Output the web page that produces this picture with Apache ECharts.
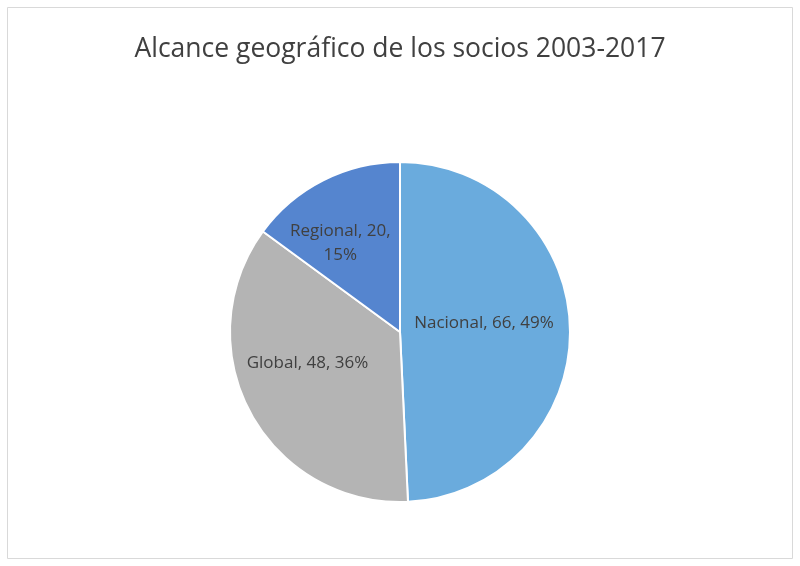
<!DOCTYPE html>
<html>
<head>
    <meta charset="utf-8">
    <title>Alcance geográfico</title>
    <script src="https://cdn.jsdelivr.net/npm/echarts@6/dist/echarts.min.js"></script>
    <style>
        html, body { margin: 0; padding: 0; background: #fff; }
    </style>
</head>
<body>
    <div id="main" style="width: 800px;height:566px;"></div>
    <script>
        var categories = ['Nacional', 'Global', 'Regional'];
        var values = [66, 48, 20];
        var colors = ['#6AABDD', '#B4B4B4', '#5585CF'];

        var pieData = [];
        for (var i = 0; i < categories.length; i++) {
            pieData.push({
                name: categories[i],
                value: values[i],
                itemStyle: { color: colors[i] }
            });
        }

        // nudges so the labels sit where Excel put them
        var labelShift = [[-4, -7], [-15, -10], [-20, -10]];

        var myChart = echarts.init(document.getElementById('main'));
        var option = {
            backgroundColor: '#fff',
            animation: false,
            title: {
                text: 'Alcance geográfico de los socios 2003-2017',
                left: 'center',
                top: 31,
                textStyle: {
                    fontFamily: 'Open Sans',
                    fontSize: 26.5,
                    fontWeight: 'normal',
                    color: '#404040'
                }
            },
            graphic: [{
                type: 'rect',
                shape: { x: 7.5, y: 7.5, width: 785, height: 551 },
                style: { fill: 'none', stroke: '#d9d9d9', lineWidth: 1 },
                silent: true
            }],
            series: [{
                type: 'pie',
                center: [400, 332],
                radius: 170,
                startAngle: 90,
                clockwise: true,
                percentPrecision: 0,
                data: pieData,
                itemStyle: { borderColor: '#fff', borderWidth: 2 },
                label: {
                    show: true,
                    position: 'inside',
                    fontFamily: 'Open Sans',
                    fontSize: 17,
                    color: '#404040',
                    lineHeight: 24,
                    formatter: function (p) {
                        if (p.percent < 20) {
                            return p.name + ', ' + p.value + ',\n' + p.percent + '%';
                        }
                        return p.name + ', ' + p.value + ', ' + p.percent + '%';
                    }
                },
                labelLayout: function (params) {
                    var s = labelShift[params.dataIndex];
                    return { dx: s[0], dy: s[1] };
                },
                labelLine: { show: false },
                emphasis: { disabled: true }
            }]
        };
        myChart.setOption(option);
    </script>
</body>
</html>
